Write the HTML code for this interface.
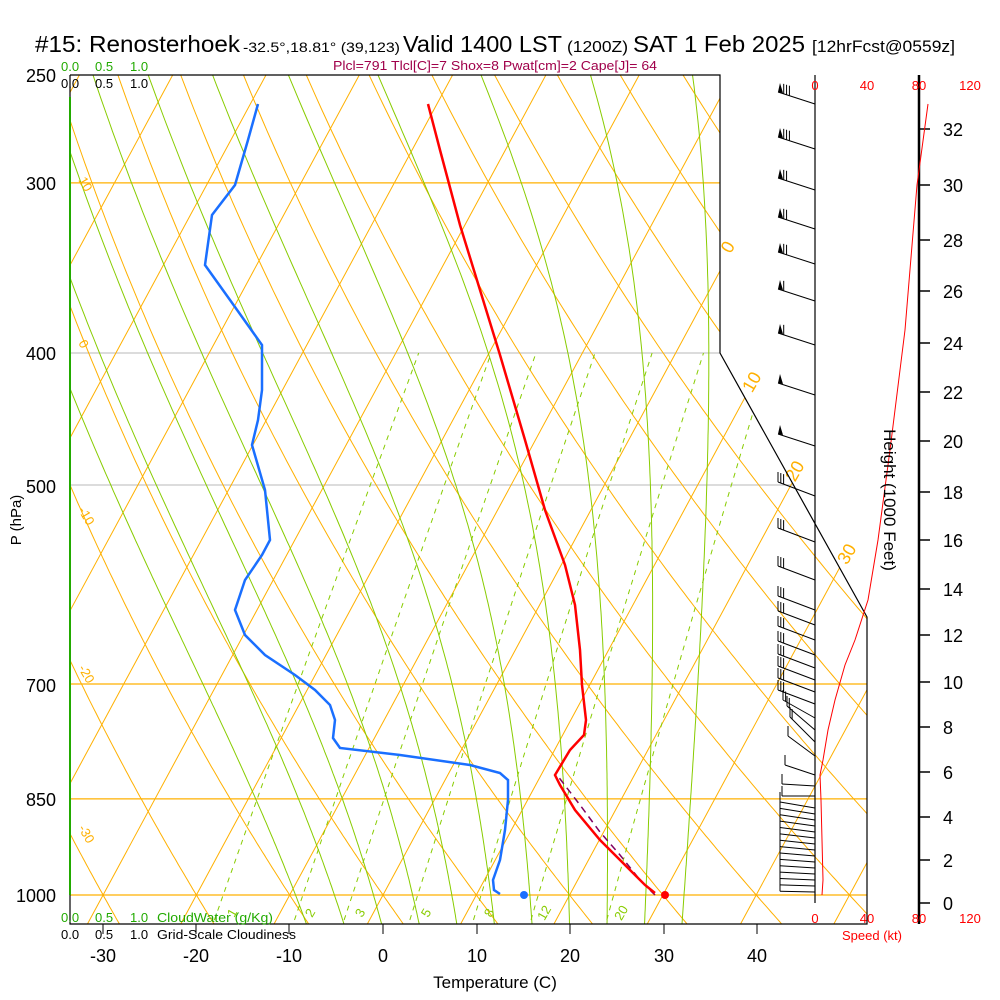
<!DOCTYPE html>
<html><head><meta charset="utf-8"><style>
html,body{margin:0;padding:0;background:#fff}
svg{display:block;font-family:"Liberation Sans",sans-serif}
</style></head><body>
<svg id="s" width="1000" height="1000" viewBox="0 0 1000 1000" xmlns="http://www.w3.org/2000/svg">
<defs><clipPath id="c"><polygon points="70,75 720,75 720,353 867,617 867,924 70,924"/></clipPath></defs>
<g id="bg" clip-path="url(#c)"></g>
<g id="fg"></g>
<text y="52" font-size="23" fill="#000"><tspan x="35" textLength="205" lengthAdjust="spacingAndGlyphs">#15: Renosterhoek</tspan><tspan x="243" font-size="14" textLength="157" lengthAdjust="spacingAndGlyphs">-32.5°,18.81° (39,123)</tspan><tspan x="403" textLength="159" lengthAdjust="spacingAndGlyphs">Valid 1400 LST</tspan><tspan x="567" font-size="16" textLength="61" lengthAdjust="spacingAndGlyphs">(1200Z)</tspan><tspan x="633" textLength="172" lengthAdjust="spacingAndGlyphs">SAT 1 Feb 2025</tspan><tspan x="812" font-size="17" textLength="143" lengthAdjust="spacingAndGlyphs">[12hrFcst@0559z]</tspan></text>
<text x="333" y="70" font-size="13" fill="#a0004a" textLength="324" lengthAdjust="spacingAndGlyphs">Plcl=791 Tlcl[C]=7 Shox=8 Pwat[cm]=2 Cape[J]= 64</text>
<g font-size="13" fill="#22aa00"><text x="61" y="71">0.0</text><text x="95" y="71">0.5</text><text x="130" y="71">1.0</text>
<text x="61" y="922">0.0</text><text x="95" y="922">0.5</text><text x="130" y="922">1.0</text><text x="157" y="922" textLength="116" lengthAdjust="spacingAndGlyphs">CloudWater (g/Kg)</text></g>
<g font-size="13" fill="#000"><text x="61" y="88">0.0</text><text x="95" y="88">0.5</text><text x="130" y="88">1.0</text>
<text x="61" y="939">0.0</text><text x="95" y="939">0.5</text><text x="130" y="939">1.0</text><text x="157" y="939" textLength="139" lengthAdjust="spacingAndGlyphs">Grid-Scale Cloudiness</text></g>
<g font-size="18" fill="#000" text-anchor="end"><text x="56" y="82">250</text><text x="56" y="190">300</text><text x="56" y="360">400</text><text x="56" y="493">500</text><text x="56" y="692">700</text><text x="56" y="806">850</text><text x="56" y="902">1000</text></g>
<text transform="translate(21,520) rotate(-90)" font-size="15" text-anchor="middle">P (hPa)</text>
<g font-size="18" fill="#000" text-anchor="middle"><text x="103" y="962">-30</text><text x="196" y="962">-20</text><text x="289" y="962">-10</text><text x="383" y="962">0</text><text x="477" y="962">10</text><text x="570" y="962">20</text><text x="664" y="962">30</text><text x="757" y="962">40</text></g>
<text x="495" y="988" font-size="17" text-anchor="middle">Temperature (C)</text>
<g font-size="13" fill="#ff0000" text-anchor="middle"><text x="815" y="90">0</text><text x="867" y="90">40</text><text x="919" y="90">80</text><text x="970" y="90">120</text>
<text x="815" y="923">0</text><text x="867" y="923">40</text><text x="919" y="923">80</text><text x="970" y="923">120</text><text x="872" y="940">Speed (kt)</text></g>
<text transform="translate(884,500) rotate(90)" font-size="17" text-anchor="middle">Height (1000 Feet)</text>
</svg>
<script>
var NS="http://www.w3.org/2000/svg";
var bg=document.getElementById('bg'),fg=document.getElementById('fg');
function el(p,t,a){var e=document.createElementNS(NS,t);for(var k in a)e.setAttribute(k,a[k]);p.appendChild(e);return e;}
function Y(p){return 895-591.5*Math.log(1000/p);}
function X(T,p){return 383+9.33*T+0.54*(895-Y(p));}
function pl(g,pts,a){a.points=pts.map(function(q){return q[0].toFixed(1)+','+q[1].toFixed(1)}).join(' ');a.fill='none';return el(g,'polyline',a);}
var ps=[];for(var p=1060;p>=245;p-=5)ps.push(p);
[[300,'#ffb000'],[400,'#c8c8c8'],[500,'#c8c8c8'],[700,'#ffb000'],[850,'#ffb000'],[1000,'#ffb000']].forEach(function(a){el(bg,'line',{x1:70,x2:870,y1:Y(a[0]),y2:Y(a[0]),stroke:a[1],'stroke-width':1.3});});
for(var T=-130;T<=50;T+=10){el(bg,'line',{x1:X(T,1060),y1:Y(1060),x2:X(T,240),y2:Y(240),stroke:'#ffb000','stroke-width':1});}
for(var th=-60;th<=160;th+=10){var pts=ps.map(function(p){return [X((th+273.15)*Math.pow(p/1000,0.2857)-273.15,p),Y(p)]});pl(bg,pts,{stroke:'#ffb000','stroke-width':1});}
function es(T){return 6.112*Math.exp(17.67*T/(T+243.5));}
[-6,-2,2,6,10,14,18,22,26,30,34].forEach(function(T0){var T=T0+273.15,pts=[];for(var p=1060;p>=245;p-=1){
 if(p%5==0)pts.push([X(T-273.15,p),Y(p)]);
 var e=es(T-273.15),r=0.622*e/(p-e),Lv=2.5e6,Rd=287,cp=1004;
 var dTdp=(Rd*T+Lv*r)/(p*(cp+Lv*Lv*r*0.622/(Rd*T*T)));T-=dTdp;}
 pl(bg,pts,{stroke:'#88cc00','stroke-width':1});});
[1,2,3,5,8,12,20].forEach(function(w){var pts=[];for(var p=1060;p>=400;p-=10){var e=w*p/(622+w),l=Math.log(e/6.112);var Td=243.5*l/(17.67-l);pts.push([X(Td,p),Y(p)]);}
 pl(bg,pts,{stroke:'#88cc00','stroke-width':1,'stroke-dasharray':'5,5'});});
[[236,'1'],[314,'2'],[364,'3'],[430,'5'],[493,'8'],[548,'12'],[625,'20']].forEach(function(a){
 el(fg,'text',{x:a[0],y:915,'font-size':13,fill:'#88cc00',transform:'rotate(-60 '+a[0]+' 915)','text-anchor':'middle'}).textContent=a[1];});
[[78,180,'10'],[78,343,'0'],[78,510,'-10'],[78,668,'-20'],[78,828,'-30']].forEach(function(a){el(fg,'text',{x:a[0],y:a[1],'font-size':13,fill:'#ffb000',transform:'rotate(60 '+a[0]+' '+a[1]+')'}).textContent=a[2];});
[[733,250,'0'],[757,385,'10'],[800,474,'20'],[852,557,'30']].forEach(function(a){el(fg,'text',{x:a[0],y:a[1],'font-size':18,fill:'#ffb000',transform:'rotate(-60 '+a[0]+' '+a[1]+')','text-anchor':'middle'}).textContent=a[2];});
pl(fg,[[70,75],[720,75],[720,353],[867,617],[867,924],[70,924],[70,75]],{stroke:'#000','stroke-width':1.2});
el(fg,'line',{x1:70,x2:70,y1:97,y2:895,stroke:'#22aa00','stroke-width':2});
[103,196,289,383,477,570,664,757].forEach(function(x){el(fg,'line',{x1:x,x2:x,y1:924,y2:934,stroke:'#000'});});
el(fg,'line',{x1:815,x2:815,y1:75,y2:903,stroke:'#000','stroke-width':1.2});
el(fg,'line',{x1:919,x2:919,y1:75,y2:924,stroke:'#000','stroke-width':2.5});
[[0,903],[2,860],[4,817],[6,772],[8,727],[10,682],[12,635],[14,589],[16,540],[18,492],[20,441],[22,392],[24,343],[26,291],[28,240],[30,185],[32,129]].forEach(function(a){
 el(fg,'line',{x1:919,x2:930,y1:a[1],y2:a[1],stroke:'#000','stroke-width':1.5});
 el(fg,'text',{x:943,y:a[1]+7,'font-size':18}).textContent=a[0];});
pl(fg,[[928,104],[917,185],[905,330],[890,450],[878,540],[868,600],[855,640],[845,665],[835,700],[828,730],[823,760],[820,775],[821,800],[822,840],[823,880],[822,895]],{stroke:'#ff0000','stroke-width':1});
function barb(y,dx,dy,n,flag){var x2=815+dx,y2=y+dy;el(fg,'line',{x1:815,y1:y,x2:x2,y2:y2,stroke:'#000'});
 var L=Math.hypot(dx,dy),ux=dx/L,uy=dy/L;
 if(flag){el(fg,'polygon',{points:(x2)+','+(y2)+' '+(x2+2)+','+(y2-9)+' '+(x2+5)+','+(y2+1),fill:'#000'});}
 for(var i=0;i<n;i++){var bx=x2-ux*(i*3+(flag?6:0)),by=y2-uy*(i*3+(flag?6:0));el(fg,'line',{x1:bx,y1:by,x2:bx,y2:by-10,stroke:'#000'});}}
[[104,3,1],[149,3,1],[190,2,1],[229,2,1],[264,2,1],[301,1,1],[345,1,1],[395,0,1],[446,0,1]].forEach(function(a){barb(a[0],-37,-12,a[1],a[2]);});
[496,542,580,610,625,640,655,668,680,692,704].forEach(function(y,i){barb(y,-37,-14,3,0);});
barb(718,-32,-18,2,0);barb(730,-28,-24,2,0);barb(742,-25,-25,2,0);barb(756,-27,-20,1,0);barb(775,-30,-10,1,0);
barb(786,-33,-2,1,0);barb(796,-33,0,1,0);
for(var y=808;y<=894;y+=6){barb(y,-35,-6+(y-808)/16,1,0);}
pl(fg,[[655,895],[640,880],[620,855],[600,832],[580,805],[557,775]],{stroke:'#800060','stroke-width':1.5,'stroke-dasharray':'7,5'});
pl(fg,[[428,104],[440,150],[460,225],[480,290],[500,355],[525,440],[545,510],[565,565],[575,605],[580,650],[582,685],[586,720],[584,735],[570,750],[555,775],[560,785],[575,810],[600,840],[625,865],[645,885],[655,893]],{stroke:'#ff0000','stroke-width':2.5});
pl(fg,[[258,104],[248,140],[235,185],[212,215],[205,265],[230,300],[262,345],[262,390],[258,420],[252,445],[265,490],[270,540],[262,555],[245,580],[235,610],[245,635],[265,655],[295,675],[315,690],[330,705],[335,720],[333,738],[340,748],[400,755],[470,765],[500,773],[508,780],[508,800],[505,830],[500,860],[493,880],[494,890],[500,894]],{stroke:'#1a6fff','stroke-width':2.5});
el(fg,'circle',{cx:524,cy:895,r:4,fill:'#1a6fff'});
el(fg,'circle',{cx:665,cy:895,r:4,fill:'#ff0000'});
</script>
</body></html>
